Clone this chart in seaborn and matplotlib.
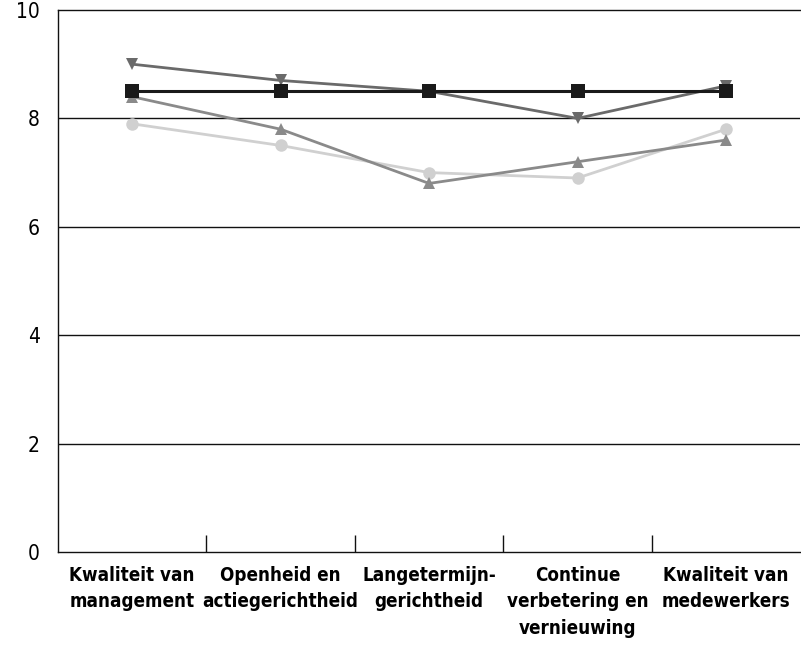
import matplotlib
matplotlib.use("Agg")
import matplotlib.pyplot as plt
import seaborn as sns
import pandas as pd
import numpy as np

categories = [
    "Kwaliteit van\nmanagement",
    "Openheid en\nactiegerichtheid",
    "Langetermijn-\ngerichtheid",
    "Continue\nverbetering en\nvernieuwing",
    "Kwaliteit van\nmedewerkers",
]
norm_values = [8.5, 8.5, 8.5, 8.5, 8.5]
series_down = [9.0, 8.7, 8.5, 8.0, 8.6]
series_up = [8.4, 7.8, 6.8, 7.2, 7.6]
series_circle = [7.9, 7.5, 7.0, 6.9, 7.8]
y_ticks = [0, 2, 4, 6, 8, 10]

sns.set_style("white")
plt.rcParams["font.family"] = ["DejaVu Sans"]
plt.rcParams["font.stretch"] = "condensed"

fig = plt.figure(figsize=(8.01, 6.53), dpi=100)
ax = fig.add_axes([0.0724, 0.1547, 0.9266, 0.830])

xpos = np.arange(len(categories))
styles = [
    (series_circle, "#d0d0d0", "o", 9),
    (series_up, "#8a8a8a", "^", 9),
    (series_down, "#6a6a6a", "v", 9),
    (norm_values, "#1a1a1a", "s", 10),
]
for vals, color, marker, ms in styles:
    df = pd.DataFrame({"x": xpos, "y": vals})
    lw = 2.2 if marker == "s" else 2.0
    sns.lineplot(data=df, x="x", y="y", ax=ax, color=color, marker=marker,
                 markersize=ms, markeredgewidth=0, linewidth=lw)

ax.set_xlim(-0.5, len(categories) - 0.5)
ax.set_ylim(0, 10)
ax.set_yticks(y_ticks)
ax.set_yticklabels([str(t) for t in y_ticks], fontsize=15,
                   fontstretch="condensed", color="black")
for t in y_ticks[1:-1]:
    ax.axhline(t, color="#111111", linewidth=1.0, zorder=0)

ax.set_xticks(xpos)
ax.set_xticklabels(categories, fontsize=13.5, fontweight="bold",
                   fontstretch="condensed", linespacing=1.5, color="black")
ax.set_xticks(xpos[:-1] + 0.5, minor=True)
ax.tick_params(axis="x", which="major", bottom=False, length=0, pad=10)
ax.tick_params(axis="x", which="minor", bottom=True, direction="in",
               length=12, width=1.0, color="#111111")
ax.tick_params(axis="y", length=0, pad=13)
ax.set_xlabel("")
ax.set_ylabel("")
for s in ax.spines.values():
    s.set_color("#111111")
    s.set_linewidth(1.0)
ax.spines["right"].set_visible(False)

fig.savefig("out.png", dpi=100)
